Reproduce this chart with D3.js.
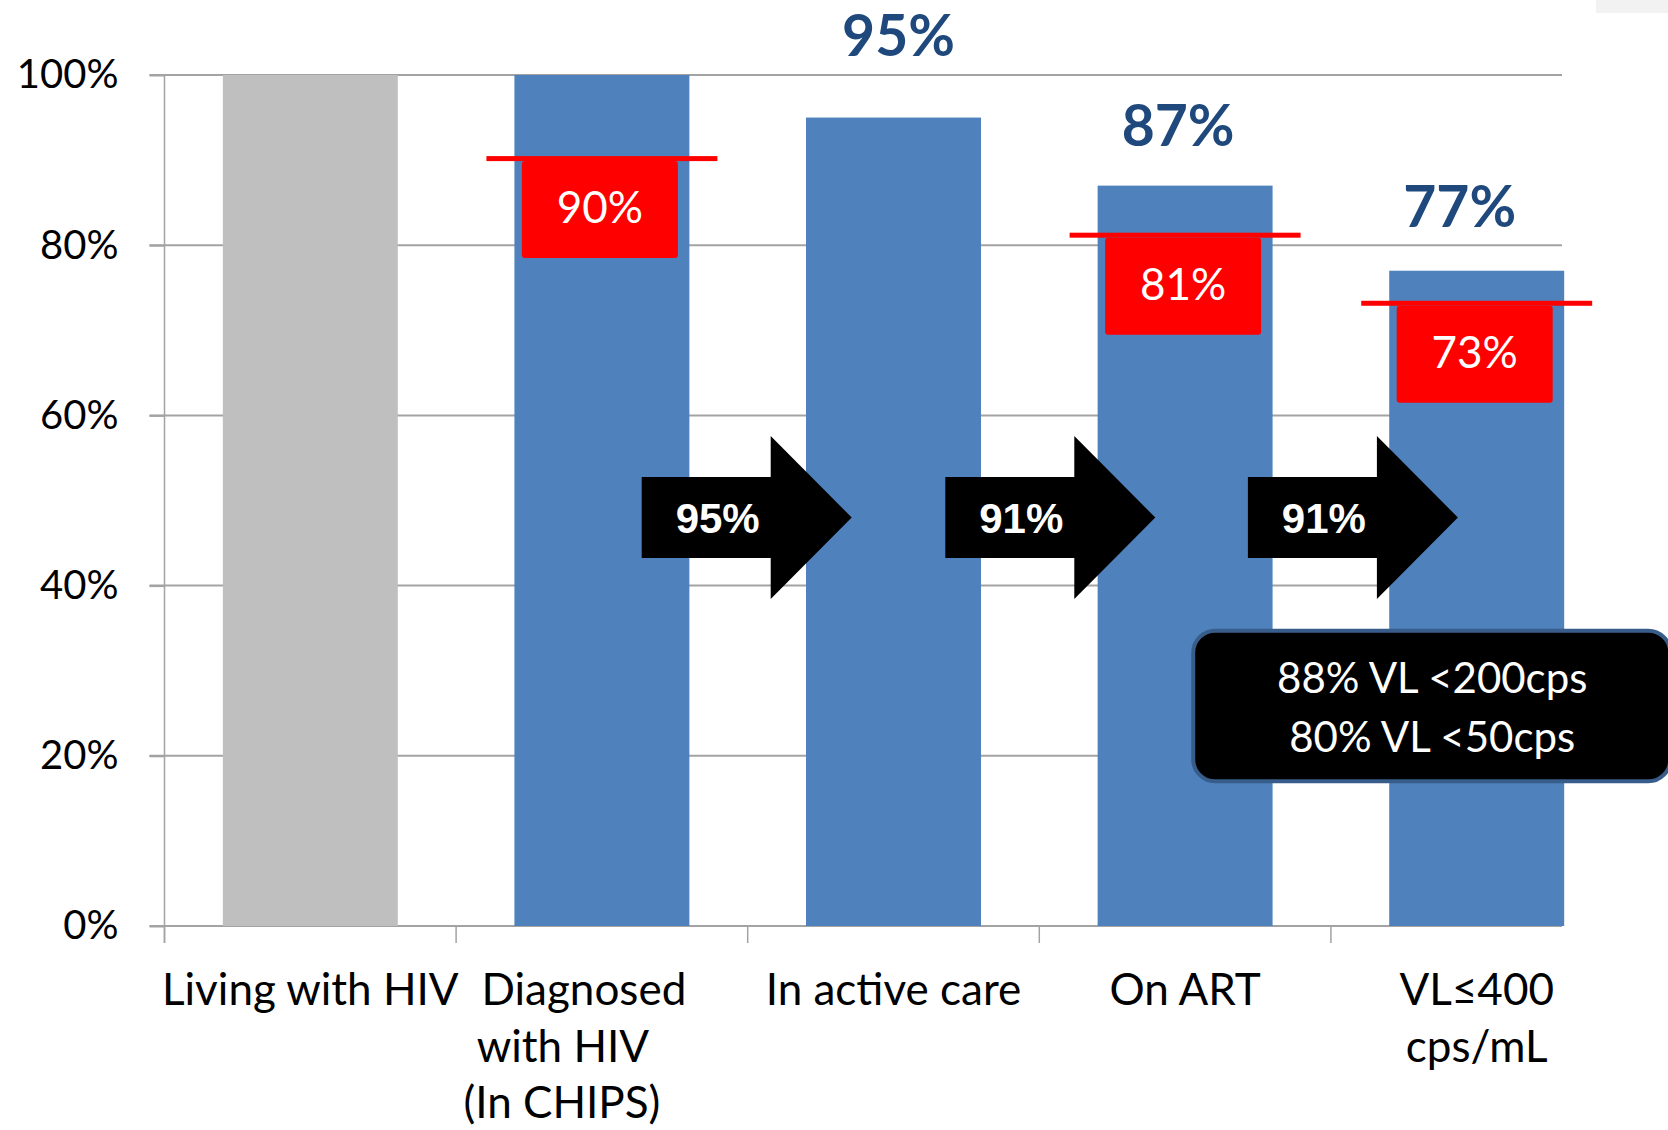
<!DOCTYPE html>
<html>
<head>
<meta charset="utf-8">
<script src="https://cdn.jsdelivr.net/npm/d3@7"></script>
<style>
  body { margin: 0; background: #fff; }
  svg { display: block; }
</style>
</head>
<body>
<svg id="chart" width="1668" height="1130"></svg>
<script>
// ======================================================================
// DATA
// ======================================================================

const categories = ["Living with HIV", "Diagnosed with HIV (In CHIPS)", "In active care", "On ART", "VL≤400 cps/mL"];
const categoryLines = [["Living with HIV"], ["Diagnosed", "with HIV", "(In CHIPS)"], ["In active care"], ["On ART"], ["VL≤400", "cps/mL"]];
const values = [100, 100, 95, 87, 77];
const topLabels = [null, null, 95, 87, 77];
const targets = [null, 90, null, 81, 73];
const stepRates = [95, 91, 91]; // arrows: care -> ART -> VL
const calloutLines = ["88% VL <200cps", "80% VL <50cps"];
const yTicks = [0, 20, 40, 60, 80, 100];

// ======================================================================
// LAYOUT
// ======================================================================

const FONT = "Lato, 'Open Sans', sans-serif";
const BLUE = "#4F81BD", GREY = "#BFBFBF", RED = "#FF0000", NAVY = "#1F497D", GRID = "#A3A3A3";

const svg = d3.select("#chart");

const x = d3.scaleBand()
  .domain(categories)
  .range([164.5, 1622.5])
  .paddingInner(0.4)
  .paddingOuter(0.2);

const y = d3.scaleLinear().domain([0, 100]).range([926, 75]);

const gridRight = 1562;
const bw = x.bandwidth();
const cx = (c) => x(c) + bw / 2;

// little hand-placed offsets from the original slide
const topLabelNudge = [null, null, [5, -62], [-7, -40], [-17, -44]];
const arrowNudge = [-1, 11, 22];
const lineNudge = [[0], [-18, -39, -40], [0], [0], [0, 0]];

// odd grey strip top right
svg.append("rect").attr("x", 1596).attr("y", 0).attr("width", 72).attr("height", 13).attr("fill", "#F2F2F2");

// gridlines
svg.append("g")
  .selectAll("line")
  .data(yTicks)
  .join("line")
  .attr("x1", x.range()[0] - 15)
  .attr("x2", gridRight)
  .attr("y1", (d) => y(d))
  .attr("y2", (d) => y(d))
  .attr("stroke", GRID)
  .attr("stroke-width", 2);

// bars
svg.append("g")
  .selectAll("rect")
  .data(categories)
  .join("rect")
  .attr("x", (d) => x(d))
  .attr("y", (d, i) => y(values[i]))
  .attr("width", bw)
  .attr("height", (d, i) => y(0) - y(values[i]))
  .attr("fill", (d, i) => (i === 0 ? GREY : BLUE));

// y axis
const yAxis = svg.append("g")
  .attr("transform", `translate(${x.range()[0]},0)`)
  .call(d3.axisLeft(y).tickValues(yTicks).tickFormat((d) => d + "%").tickSize(15).tickPadding(31));
yAxis.select(".domain").remove();
yAxis.selectAll(".tick line").attr("stroke", GRID).attr("stroke-width", 2);
yAxis.selectAll(".tick text")
  .attr("font-family", FONT)
  .attr("font-size", 40)
  .attr("fill", "#000");
svg.append("line")
  .attr("x1", x.range()[0]).attr("x2", x.range()[0])
  .attr("y1", y(100)).attr("y2", y(0) + 17)
  .attr("stroke", GRID).attr("stroke-width", 1.5);

// x ticks at band boundaries
svg.append("g")
  .selectAll("line")
  .data(categories)
  .join("line")
  .attr("x1", (d) => x(d) - x.step() * 0.2)
  .attr("x2", (d) => x(d) - x.step() * 0.2)
  .attr("y1", y(0))
  .attr("y2", y(0) + 17)
  .attr("stroke", GRID)
  .attr("stroke-width", 1.5);

// category labels
const catG = svg.append("g")
  .attr("font-family", FONT)
  .attr("font-size", 44)
  .attr("text-anchor", "middle")
  .attr("fill", "#000");
categories.forEach((c, i) => {
  categoryLines[i].forEach((ln, j) => {
    catG.append("text")
      .attr("x", cx(c) + (lineNudge[i][j] || 0))
      .attr("y", 1005 + j * 56.7)
      .text(ln);
  });
});

// targets (red marker + box)
categories.forEach((c, i) => {
  const t = targets[i];
  if (t == null) return;
  const g = svg.append("g");
  g.append("rect")
    .attr("x", cx(c) - 2 - 78)
    .attr("y", y(t) + 1)
    .attr("width", 156)
    .attr("height", 97)
    .attr("rx", 3)
    .attr("fill", RED);
  g.append("rect")
    .attr("x", x(c) - 28)
    .attr("y", y(t) - 4)
    .attr("width", bw + 56)
    .attr("height", 5)
    .attr("fill", RED);
  g.append("text")
    .attr("x", cx(c) - 2)
    .attr("y", y(t) + 63)
    .attr("text-anchor", "middle")
    .attr("font-family", FONT)
    .attr("font-size", 44)
    .attr("fill", "#fff")
    .text(t + "%");
});

// big value labels above bars
categories.forEach((c, i) => {
  if (topLabels[i] == null) return;
  svg.append("text")
    .attr("x", cx(c) + topLabelNudge[i][0])
    .attr("y", y(values[i]) + topLabelNudge[i][1])
    .attr("text-anchor", "middle")
    .attr("font-family", FONT)
    .attr("font-weight", "bold")
    .attr("font-size", 57)
    .attr("fill", NAVY)
    .text(topLabels[i] + "%");
});

// step arrows between bars
stepRates.forEach((r, i) => {
  const mid = x(categories[i + 2]) - x.step() * 0.2 + arrowNudge[i];
  const cy = y(48);
  const L = mid - 105;
  const path = d3.path();
  path.moveTo(L, cy - 40.5);
  path.lineTo(L + 129, cy - 40.5);
  path.lineTo(L + 129, cy - 81.5);
  path.lineTo(L + 210, cy);
  path.lineTo(L + 129, cy + 81.5);
  path.lineTo(L + 129, cy + 40.5);
  path.lineTo(L, cy + 40.5);
  path.closePath();
  svg.append("path").attr("d", path.toString()).attr("fill", "#000");
  svg.append("text")
    .attr("x", L + 76)
    .attr("y", cy + 15)
    .attr("text-anchor", "middle")
    .attr("font-family", "'Liberation Sans', Arial, sans-serif")
    .attr("font-weight", "bold")
    .attr("font-size", 42)
    .attr("fill", "#fff")
    .text(r + "%");
});

// viral load callout
const boxL = x(categories[4]) - 196;
svg.append("rect")
  .attr("x", boxL)
  .attr("y", y(34.7))
  .attr("width", 477)
  .attr("height", y(17) - y(34.7))
  .attr("rx", 22)
  .attr("fill", "#000")
  .attr("stroke", "#385D8A")
  .attr("stroke-width", 4);
svg.append("g")
  .selectAll("text")
  .data(calloutLines)
  .join("text")
  .attr("x", boxL + 239)
  .attr("y", (d, i) => 693 + i * 58.5)
  .attr("text-anchor", "middle")
  .attr("font-family", FONT)
  .attr("font-size", 42)
  .attr("fill", "#fff")
  .text((d) => d);
</script>
</body>
</html>
